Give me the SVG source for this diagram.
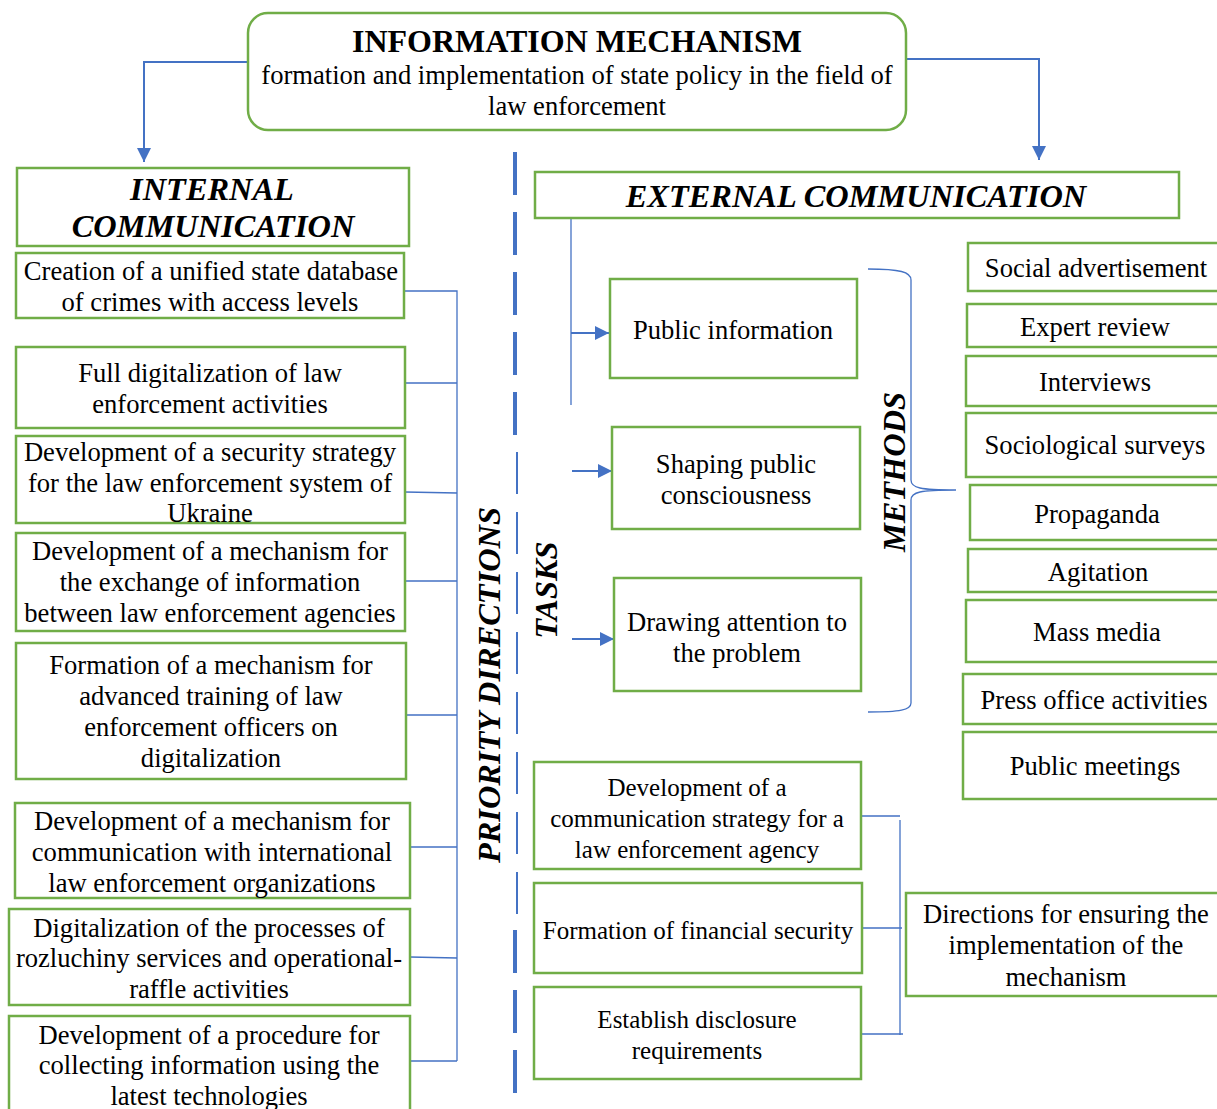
<svg xmlns="http://www.w3.org/2000/svg" width="1217" height="1109" viewBox="0 0 1217 1109">
<style>
.box{fill:#fff;stroke:#70AD47;stroke-width:2.5}
.t{font-family:Liberation Serif,serif;font-size:26.6px;fill:#000;text-anchor:middle;transform:translate(0px,1px)}
.s{font-size:25px}
.h{font-family:Liberation Serif,serif;font-size:32.4px;font-weight:bold;font-style:italic;fill:#000;text-anchor:middle}
.c{fill:none;stroke:#4472C4;stroke-width:1.3}
.a{fill:none;stroke:#4472C4;stroke-width:2}
</style>
<defs>
<marker id="arr" viewBox="0 0 10 10" refX="10" refY="5" markerWidth="7" markerHeight="7" markerUnits="strokeWidth" orient="auto">
<path d="M0,0 L10,5 L0,10 z" fill="#4472C4"/>
</marker>
</defs>
<rect width="1217" height="1109" fill="#fff"/>

<g id="connectors">
<path class="a" d="M248,62 H144 V162" marker-end="url(#arr)"/>
<path class="a" d="M906,59 H1039 V160" marker-end="url(#arr)"/>
<path d="M515,152 V440" stroke="#4472C4" stroke-width="4" stroke-dasharray="43 17" fill="none"/>
<path d="M517,452 V915" stroke="#4472C4" stroke-width="2" stroke-dasharray="42 18" fill="none"/>
<path d="M515,930 V1093" stroke="#4472C4" stroke-width="4" stroke-dasharray="43 17" fill="none"/>
<path class="c" d="M405,291 H457 V1061 M405,383 H457 M405,492 L457,493 M405,581 H457 M406,715 H457 M410,847 H457 M410,957 L457,958 M410,1061 H457"/>
<path class="c" d="M571,218 V405"/>
<path class="a" d="M571,333 H609" marker-end="url(#arr)"/>
<path class="a" d="M572,471 H612" marker-end="url(#arr)"/>
<path class="a" d="M572,639 H614" marker-end="url(#arr)"/>
<path class="c" d="M868,269 C900,269 911,272 911,280 V480 C911,488 920,490 956,490 C920,490 911,492 911,500 V703 C911,710 900,712 868,712"/>
<path class="c" d="M861,816 H900 M900,820 V1035 M862,928 H902 M861,1034 H903"/>
</g>

<g id="top">
<rect class="box" x="248" y="13" width="658" height="117" rx="20"/>
<text x="577" y="52" font-family="Liberation Serif,serif" font-size="32" font-weight="bold" text-anchor="middle">INFORMATION MECHANISM</text>
<text class="t" x="577" y="83">formation and implementation of state policy in the field of</text>
<text class="t" x="577" y="114">law enforcement</text>
</g>

<g id="internal">
<rect class="box" x="17" y="168" width="392" height="78"/>
<text class="h" x="212" y="200">INTERNAL</text>
<text class="h" x="213" y="237">COMMUNICATION</text>
</g>

<g id="external">
<rect class="box" x="535" y="172" width="644" height="46"/>
<text class="h" x="856" y="207">EXTERNAL COMMUNICATION</text>
</g>

<g id="pd1"><rect class="box" x="16" y="253" width="388" height="65"/>
<text class="t" x="211" y="279">Creation of a unified state database</text>
<text class="t" x="210" y="310">of crimes with access levels</text></g>

<g id="pd2"><rect class="box" x="16" y="347" width="389" height="81"/>
<text class="t" x="210" y="381">Full digitalization of law</text>
<text class="t" x="210" y="412">enforcement activities</text></g>

<g id="pd3"><rect class="box" x="16" y="436" width="389" height="87"/>
<text class="t" x="210" y="460">Development of a security strategy</text>
<text class="t" x="210" y="491">for the law enforcement system of</text>
<text class="t" x="210" y="521">Ukraine</text></g>

<g id="pd4"><rect class="box" x="16" y="533" width="389" height="98"/>
<text class="t" x="210" y="559">Development of a mechanism for</text>
<text class="t" x="210" y="590">the exchange of information</text>
<text class="t" x="210" y="621">between law enforcement agencies</text></g>

<g id="pd5"><rect class="box" x="16" y="643" width="390" height="136"/>
<text class="t" x="211" y="673">Formation of a mechanism for</text>
<text class="t" x="211" y="704">advanced training of law</text>
<text class="t" x="211" y="735">enforcement officers on</text>
<text class="t" x="211" y="766">digitalization</text></g>

<g id="pd6"><rect class="box" x="15" y="803" width="395" height="95"/>
<text class="t" x="212" y="829">Development of a mechanism for</text>
<text class="t" x="212" y="860">communication with international</text>
<text class="t" x="212" y="891">law enforcement organizations</text></g>

<g id="pd7"><rect class="box" x="9" y="909" width="401" height="96"/>
<text class="t" x="209" y="936">Digitalization of the processes of</text>
<text class="t" x="209" y="966">rozluchiny services and operational-</text>
<text class="t" x="209" y="997">raffle activities</text></g>

<g id="pd8"><rect class="box" x="9" y="1016" width="401" height="100"/>
<text class="t" x="209" y="1043">Development of a procedure for</text>
<text class="t" x="209" y="1073">collecting information using the</text>
<text class="t" x="209" y="1104">latest technologies</text></g>

<g id="labels">
<text class="h" transform="translate(500,685) rotate(-90)">PRIORITY DIRECTIONS</text>
<text class="h" transform="translate(557,590) rotate(-90)">TASKS</text>
<text class="h" transform="translate(905,472) rotate(-90)">METHODS</text>
</g>

<g id="task1"><rect class="box" x="610" y="279" width="247" height="99"/>
<text class="t" x="733" y="338">Public information</text></g>
<g id="task2"><rect class="box" x="612" y="427" width="248" height="102"/>
<text class="t" x="736" y="472">Shaping public</text>
<text class="t" x="736" y="503">consciousness</text></g>
<g id="task3"><rect class="box" x="614" y="578" width="247" height="113"/>
<text class="t" x="737" y="630">Drawing attention to</text>
<text class="t" x="737" y="661">the problem</text></g>

<g id="m1"><rect class="box" x="968" y="243" width="256" height="48"/><text class="t" x="1096" y="276">Social advertisement</text></g>
<g id="m2"><rect class="box" x="967" y="304" width="256" height="43"/><text class="t" x="1095" y="335">Expert review</text></g>
<g id="m3"><rect class="box" x="966" y="356" width="256" height="50"/><text class="t" x="1095" y="390">Interviews</text></g>
<g id="m4"><rect class="box" x="966" y="413" width="256" height="64"/><text class="t" x="1095" y="453">Sociological surveys</text></g>
<g id="m5"><rect class="box" x="970" y="485" width="254" height="55"/><text class="t" x="1097" y="522">Propaganda</text></g>
<g id="m6"><rect class="box" x="968" y="549" width="256" height="43"/><text class="t" x="1098" y="580">Agitation</text></g>
<g id="m7"><rect class="box" x="966" y="600" width="256" height="62"/><text class="t" x="1097" y="640">Mass media</text></g>
<g id="m8"><rect class="box" x="963" y="674" width="260" height="50"/><text class="t" x="1094" y="708">Press office activities</text></g>
<g id="m9"><rect class="box" x="963" y="732" width="260" height="67"/><text class="t" x="1095" y="774">Public meetings</text></g>

<g id="d1"><rect class="box" x="534" y="762" width="327" height="107"/>
<text class="t s" x="697" y="795">Development of a</text>
<text class="t s" x="697" y="826">communication strategy for a</text>
<text class="t s" x="697" y="857">law enforcement agency</text></g>
<g id="d2"><rect class="box" x="534" y="883" width="328" height="90"/>
<text class="t s" x="698" y="938">Formation of financial security</text></g>
<g id="d3"><rect class="box" x="534" y="987" width="327" height="92"/>
<text class="t s" x="697" y="1027">Establish disclosure</text>
<text class="t s" x="697" y="1058">requirements</text></g>
<g id="d4"><rect class="box" x="906" y="893" width="318" height="103"/>
<text class="t" x="1066" y="922">Directions for ensuring the</text>
<text class="t" x="1066" y="953">implementation of the</text>
<text class="t" x="1066" y="985">mechanism</text></g>
</svg>
